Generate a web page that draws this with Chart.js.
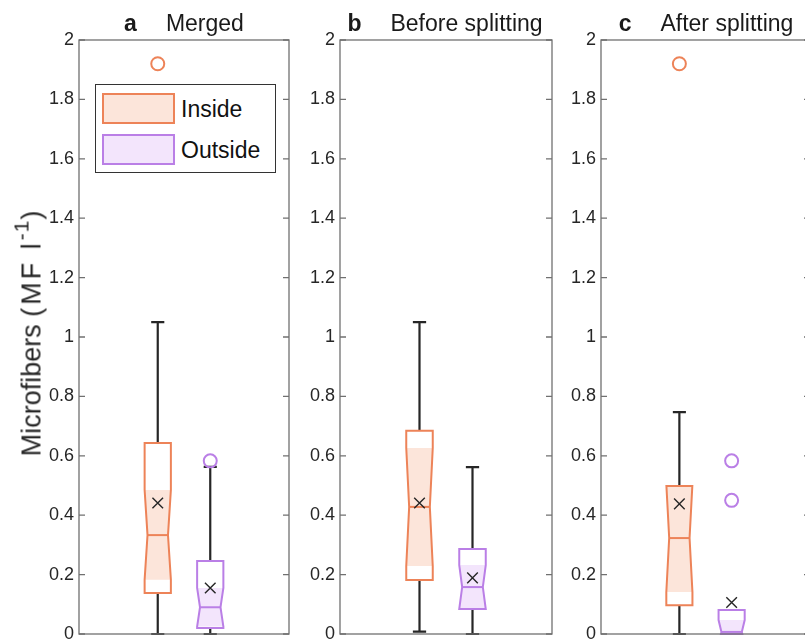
<!DOCTYPE html>
<html>
<head>
<meta charset="utf-8">
<script src="https://cdn.jsdelivr.net/npm/chart.js@4.4.1/dist/chart.umd.min.js"></script>
<style>
body { margin: 0; width: 805px; height: 642px; overflow: hidden; background: #fff; position: relative;
       font-family: "Liberation Sans", Arial, sans-serif; color: #262626; }
.holder { position: absolute; top: 0; }
.title { position: absolute; top: 12px; font-size: 23px; line-height: 23px; white-space: nowrap; color: #1a1a1a;
         transform: translateX(-50%); }
.title span { margin-left: 29px; }
.ylabel { position: absolute; left: 32px; top: 332px; font-size: 27px; line-height: 27px; white-space: nowrap;
          transform: translate(-50%, -50%) rotate(-90deg); color: #262626; }
.ylabel .unit { letter-spacing: 3px; }
.ylabel sup { font-size: 21px; vertical-align: 12px; line-height: 0; letter-spacing: 1px; }
.legend { position: absolute; left: 95px; top: 84px; width: 179px; height: 87px; border: 1px solid #333; background: #fff; }
.legend .row { position: absolute; left: 6px; height: 31px; }
.legend .sw { position: absolute; left: 0; top: 0; width: 69px; height: 27px; border-width: 2px; border-style: solid; }
.legend .lb { position: absolute; left: 79px; top: 1px; font-size: 23px; line-height: 30px; color: #111; }
</style>
</head>
<body>
<div id="wrap"></div>
<div class="ylabel">Microfibers <span class="unit">(MF l<sup>-1</sup>)</span></div>
<div class="legend" id="legend"></div>
<script>
(function main() {
// ---- data ----
var panelLetters = ["a", "b", "c"];
var panelTitles = ["Merged", "Before splitting", "After splitting"];
var seriesNames = ["Inside", "Outside"];
var groupPositions = [1.5, 2.5];

var yTickValues = [0, 0.2, 0.4, 0.6, 0.8, 1, 1.2, 1.4, 1.6, 1.8, 2];
var yTickLabels = ["0", "0.2", "0.4", "0.6", "0.8", "1", "1.2", "1.4", "1.6", "1.8", "2"];

// one entry per panel: [Inside, Outside]
var q1Values =          [[0.138, 0.020], [0.182, 0.084], [0.097, 0.000]];
var medianValues =      [[0.333, 0.090], [0.428, 0.158], [0.323, 0.007]];
var q3Values =          [[0.643, 0.246], [0.684, 0.286], [0.498, 0.081]];
var notchLowValues =    [[0.183, 0.025], [0.229, 0.084], [0.141, -0.033]];
var notchHighValues =   [[0.485, 0.155], [0.626, 0.232], [0.505, 0.047]];
var whiskerLowValues =  [[0.000, 0.000], [0.008, 0.000], [0.000, 0.000]];
var whiskerHighValues = [[1.050, 0.563], [1.050, 0.562], [0.747, 0.081]];
var meanValues =        [[0.441, 0.155], [0.441, 0.189], [0.438, 0.106]];
var outlierValues =     [[[1.92], [0.583]], [[], []], [[1.92], [0.583, 0.45]]];

// ---- styles ----
var edgeColors = ["rgb(237,131,88)", "rgb(186,127,230)"];
var fillColors = ["rgb(252,229,218)", "rgb(243,229,252)"];
var whiskerColor = "#262626";
var frameColor = "#707070";

var panelLefts = [79, 340, 601];
var panelWidths = [210, 212, 209];
var areaTop = 40, areaBottom = 634, canvasH = 700, axisW = 60, padR = 10;
var boxHalf = 0.25, capHalf = 0.125, waist = 0.78;

function halfWidthAt(v, med, nlo, nhi) {
    if (v >= nlo && v <= nhi) {
        var d = v < med ? (med - v) / (med - nlo) : (v - med) / (nhi - med);
        return boxHalf * (waist + (1 - waist) * d);
    }
    return boxHalf;
}

function boxPlugin(p) {
    return {
        id: "boxes" + p,
        beforeDatasetsDraw: function(chart) {
            var ctx = chart.ctx;
            var xs = chart.scales.x, ys = chart.scales.y;
            for (var g = 0; g < 2; g++) {
                var cx = groupPositions[g];
                var q1 = q1Values[p][g], q3 = q3Values[p][g], med = medianValues[p][g];
                var nlo = notchLowValues[p][g], nhi = notchHighValues[p][g];
                var wlo = whiskerLowValues[p][g], whi = whiskerHighValues[p][g];
                var px = xs.getPixelForValue(cx);

                // whiskers
                ctx.save();
                ctx.strokeStyle = whiskerColor;
                ctx.lineWidth = 2.2;
                var capW = xs.getPixelForValue(cx + capHalf) - px;
                if (whi > q3) {
                    ctx.beginPath();
                    ctx.moveTo(px, ys.getPixelForValue(q3));
                    ctx.lineTo(px, ys.getPixelForValue(whi));
                    ctx.moveTo(px - capW, ys.getPixelForValue(whi));
                    ctx.lineTo(px + capW, ys.getPixelForValue(whi));
                    ctx.stroke();
                }
                if (wlo < q1) {
                    ctx.beginPath();
                    ctx.moveTo(px, ys.getPixelForValue(q1));
                    ctx.lineTo(px, ys.getPixelForValue(wlo));
                    ctx.moveTo(px - capW, ys.getPixelForValue(wlo));
                    ctx.lineTo(px + capW, ys.getPixelForValue(wlo));
                    ctx.stroke();
                }
                ctx.restore();

                // outline levels, top to bottom
                var levels = [q3];
                if (nhi < q3) levels.push(nhi);
                levels.push(med);
                if (nlo > q1) levels.push(nlo);
                levels.push(q1);

                function outline(vals) {
                    ctx.beginPath();
                    for (var i = 0; i < vals.length; i++) {
                        var hw = halfWidthAt(vals[i], med, nlo, nhi);
                        var x = xs.getPixelForValue(cx - hw), y = ys.getPixelForValue(vals[i]);
                        if (i === 0) ctx.moveTo(x, y); else ctx.lineTo(x, y);
                    }
                    for (var j = vals.length - 1; j >= 0; j--) {
                        var hw2 = halfWidthAt(vals[j], med, nlo, nhi);
                        ctx.lineTo(xs.getPixelForValue(cx + hw2), ys.getPixelForValue(vals[j]));
                    }
                    ctx.closePath();
                }

                ctx.save();
                outline(levels);
                ctx.fillStyle = "#fff";
                ctx.fill();
                // notch fill
                var fillVals = [Math.min(nhi, q3), med, Math.max(nlo, q1)];
                outline(fillVals);
                ctx.fillStyle = fillColors[g];
                ctx.fill();
                outline(levels);
                ctx.strokeStyle = edgeColors[g];
                ctx.lineWidth = 2;
                ctx.lineJoin = "miter";
                ctx.stroke();
                // median
                var mhw = halfWidthAt(med, med, nlo, nhi);
                ctx.beginPath();
                ctx.moveTo(xs.getPixelForValue(cx - mhw), ys.getPixelForValue(med));
                ctx.lineTo(xs.getPixelForValue(cx + mhw), ys.getPixelForValue(med));
                ctx.stroke();
                ctx.restore();
            }
        },
        afterDraw: function(chart) {
            var ctx = chart.ctx, a = chart.chartArea, ys = chart.scales.y;
            ctx.save();
            ctx.strokeStyle = frameColor;
            ctx.lineWidth = 1.3;
            ctx.strokeRect(a.left, a.top, a.right - a.left, a.bottom - a.top);
            ctx.beginPath();
            for (var i = 0; i < yTickValues.length; i++) {
                var y = ys.getPixelForValue(yTickValues[i]);
                ctx.moveTo(a.left, y); ctx.lineTo(a.left + 6, y);
                ctx.moveTo(a.right, y); ctx.lineTo(a.right - 6, y);
            }
            ctx.stroke();
            ctx.restore();
        }
    };
}

function buildPanel(p) {
    var holder = document.createElement("div");
    holder.className = "holder";
    holder.style.left = (panelLefts[p] - axisW) + "px";
    var canvas = document.createElement("canvas");
    canvas.width = axisW + panelWidths[p] + padR;
    canvas.height = canvasH;
    holder.appendChild(canvas);
    document.getElementById("wrap").appendChild(holder);

    var title = document.createElement("div");
    title.className = "title";
    title.style.left = (panelLefts[p] + 105) + "px";
    var letter = document.createElement("b");
    letter.textContent = panelLetters[p];
    var words = document.createElement("span");
    words.textContent = panelTitles[p];
    title.appendChild(letter);
    title.appendChild(words);
    document.body.appendChild(title);

    var datasets = [];
    for (var g = 0; g < 2; g++) {
        var outs = [];
        for (var k = 0; k < outlierValues[p][g].length; k++) {
            outs.push({ x: groupPositions[g], y: outlierValues[p][g][k] });
        }
        datasets.push({
            label: seriesNames[g] + " outliers",
            data: outs,
            pointStyle: "circle",
            pointRadius: 6.5,
            borderColor: edgeColors[g],
            backgroundColor: "rgba(0,0,0,0)",
            borderWidth: 2
        });
    }
    datasets.push({
        label: "Mean",
        data: groupPositions.map(function(x, g) { return { x: x, y: meanValues[p][g] }; }),
        pointStyle: "crossRot",
        pointRadius: 7.5,
        borderColor: "#262626",
        borderWidth: 1.4
    });

    new Chart(canvas, {
        type: "scatter",
        data: { datasets: datasets },
        options: {
            responsive: false,
            animation: false,
            events: [],
            layout: { padding: { top: areaTop, bottom: canvasH - areaBottom, left: 0, right: padR } },
            plugins: { legend: { display: false }, tooltip: { enabled: false } },
            scales: {
                x: { type: "linear", min: 0, max: 4, display: false },
                y: {
                    type: "linear", min: 0, max: 2,
                    afterBuildTicks: function(scale) {
                        scale.ticks = yTickValues.map(function(v) { return { value: v }; });
                    },
                    afterFit: function(scale) { scale.width = axisW; },
                    grid: { display: false, drawTicks: false },
                    border: { display: false },
                    ticks: {
                        padding: 5,
                        color: "#262626",
                        font: { family: "'Liberation Sans', Arial, sans-serif", size: 18 },
                        callback: function(v) { return yTickLabels[yTickValues.indexOf(v)]; }
                    }
                }
            }
        },
        plugins: [boxPlugin(p)]
    });
}

for (var p = 0; p < 3; p++) buildPanel(p);

// legend built from the series arrays
var legend = document.getElementById("legend");
for (var g = 0; g < seriesNames.length; g++) {
    var row = document.createElement("div");
    row.className = "row";
    row.style.top = (8 + g * 41) + "px";
    var sw = document.createElement("div");
    sw.className = "sw";
    sw.style.borderColor = edgeColors[g];
    sw.style.background = fillColors[g];
    var lb = document.createElement("div");
    lb.className = "lb";
    lb.textContent = seriesNames[g];
    row.appendChild(sw);
    row.appendChild(lb);
    legend.appendChild(row);
}
})();
</script>
</body>
</html>
